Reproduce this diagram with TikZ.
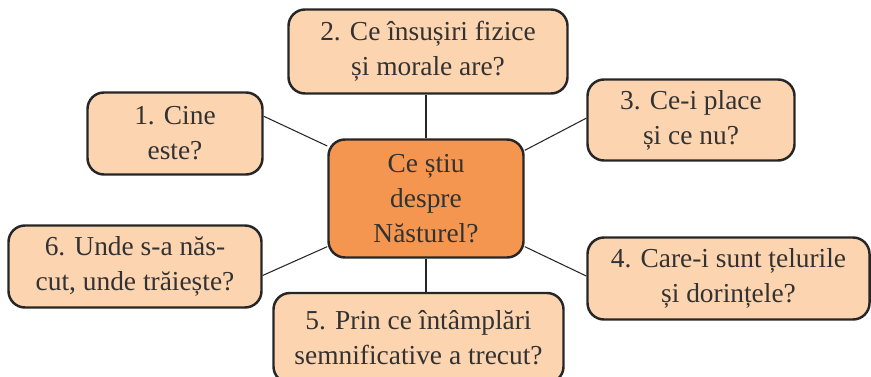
\documentclass[tikz,border=0pt]{standalone}
\usepackage{fontspec}
\setmainfont{Liberation Serif}
\definecolor{peach}{RGB}{252,212,176}
\definecolor{orangec}{RGB}{245,150,80}
\definecolor{edgegray}{RGB}{38,38,38}
\definecolor{textgray}{RGB}{50,50,50}
\begin{document}
\begin{tikzpicture}
        \tikzstyle{question} = [fill=peach,draw=edgegray,line width=1.4pt,rounded corners=0.33cm,
            align=center,inner sep=0pt,text=textgray,font=\fontsize{15.6}{20}\selectfont]
        \tikzstyle{central} = [question,fill=orangec]
        \tikzstyle{link} = [draw=edgegray,line width=0.6pt]

        \useasboundingbox (0,0) rectangle (17.42,7.54);

        \node[central,minimum width=3.9cm,minimum height=2.36cm] (N) at (8.52,3.57){Ce știu\\despre\\Năsturel?};
        \node[question,minimum width=3.5cm,minimum height=1.64cm] (A) at (3.50,4.87){1. Cine\\este?};
        \node[question,minimum width=5.58cm,minimum height=1.68cm] (B) at (8.56,6.51){2. Ce însușiri fizice\\și morale are?};
        \node[question,minimum width=4.14cm,minimum height=1.62cm] (C) at (13.82,5.14){3. Ce-i place\\și ce nu?};
        \node[question,minimum width=5.64cm,minimum height=1.64cm] (D) at (14.57,1.97){4. Care-i sunt țelurile\\și dorințele?};
        \node[question,minimum width=5.80cm,minimum height=1.80cm] (E) at (8.37,0.78){5. Prin ce întâmplări\\semnificative a trecut?};
        \node[question,minimum width=5.06cm,minimum height=1.64cm] (F) at (2.70,2.21){6. Unde s-a năs-\\cut, unde trăiește?};

        \draw[link] (A.11) -- (N.152);
        \draw[link] (N.north) -- (N.north |- B.south);
        \draw[link] (C.179) -- (N.26);
        \draw[link] (D.179) -- (N.334);
        \draw[link] (N.south) -- (N.south |- E.north);
        \draw[link] (F.356) -- (N.206);

    \end{tikzpicture}
\end{document}
